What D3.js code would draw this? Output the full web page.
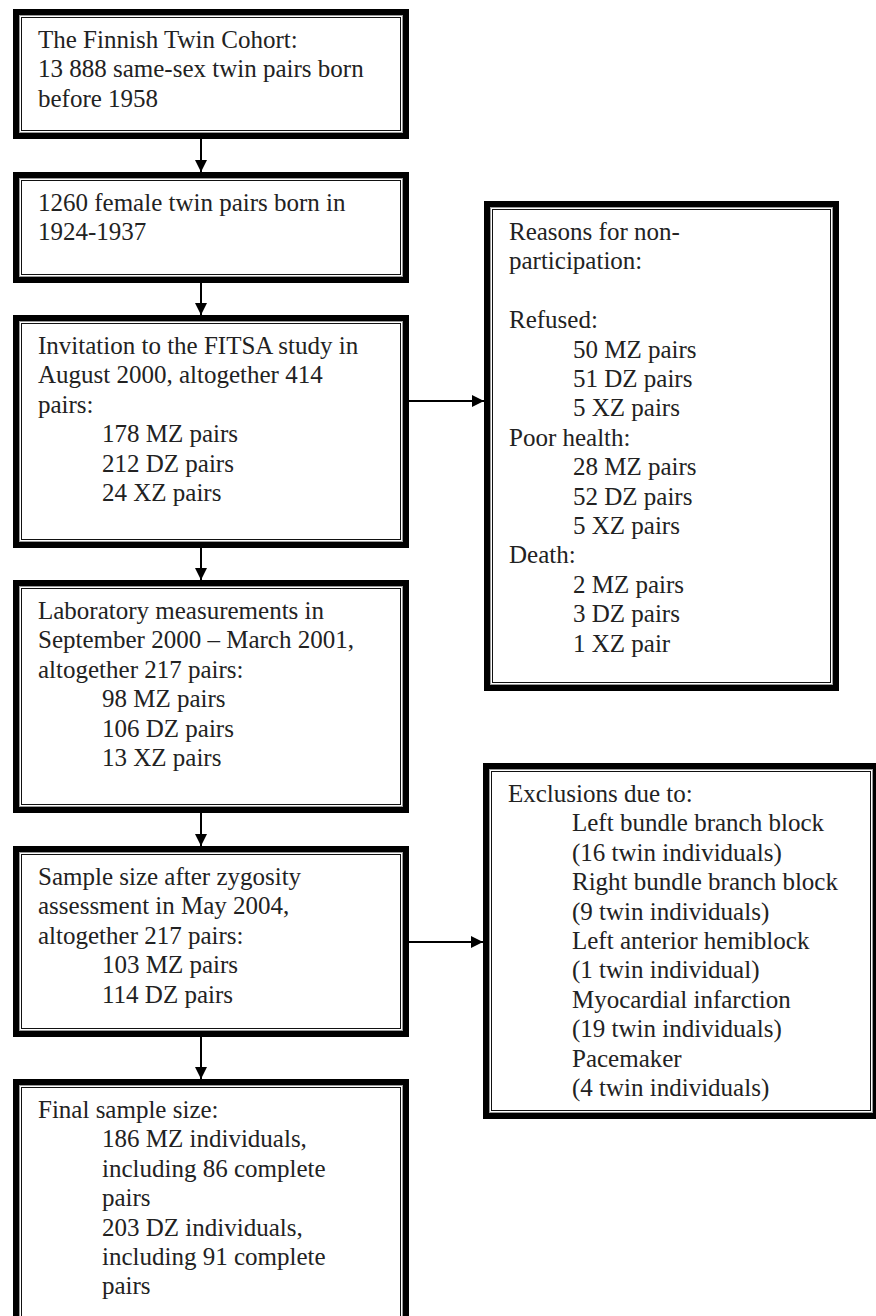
<!DOCTYPE html>
<html>
<head>
<meta charset="utf-8">
<script src="https://cdn.jsdelivr.net/npm/d3@7"></script>
<style>
  html, body { margin: 0; padding: 0; background: #fff; }
  svg { display: block; }
</style>
</head>
<body>
<div id="chart"></div>
<script>
// box texts, "\t" marks an indented line
const cohortLines = ["The Finnish Twin Cohort:", "13 888 same-sex twin pairs born", "before 1958"];
const femaleLines = ["1260 female twin pairs born in", "1924-1937"];
const invitationLines = ["Invitation to the FITSA study in", "August 2000, altogether 414", "pairs:",
  "\t178 MZ pairs", "\t212 DZ pairs", "\t24 XZ pairs"];
const labLines = ["Laboratory measurements in", "September 2000 \u2013 March 2001,", "altogether 217 pairs:",
  "\t98 MZ pairs", "\t106 DZ pairs", "\t13 XZ pairs"];
const zygosityLines = ["Sample size after zygosity", "assessment in May 2004,", "altogether 217 pairs:",
  "\t103 MZ pairs", "\t114 DZ pairs"];
const finalLines = ["Final sample size:", "\t186 MZ individuals,", "\tincluding 86 complete", "\tpairs",
  "\t203 DZ individuals,", "\tincluding 91 complete", "\tpairs"];
const nonParticipationLines = ["Reasons for non-", "participation:", "", "Refused:",
  "\t50 MZ pairs", "\t51 DZ pairs", "\t5 XZ pairs", "Poor health:",
  "\t28 MZ pairs", "\t52 DZ pairs", "\t5 XZ pairs", "Death:",
  "\t2 MZ pairs", "\t3 DZ pairs", "\t1 XZ pair"];
const exclusionLines = ["Exclusions due to:", "\tLeft bundle branch block", "\t(16 twin individuals)",
  "\tRight bundle branch block", "\t(9 twin individuals)", "\tLeft anterior hemiblock",
  "\t(1 twin individual)", "\tMyocardial infarction", "\t(19 twin individuals)",
  "\tPacemaker", "\t(4 twin individuals)"];

const width = 876, height = 1316;

// layout of the boxes (outer edge of the thick border)
const boxes = [
  { id: "cohort", lines: cohortLines, x0: 13, x1: 409, y0: 9, y1: 139 },
  { id: "female", lines: femaleLines, x0: 13, x1: 409, y0: 172, y1: 283 },
  { id: "invite", lines: invitationLines, x0: 13, x1: 409, y0: 315, y1: 548 },
  { id: "lab", lines: labLines, x0: 13, x1: 409, y0: 580, y1: 813 },
  { id: "zyg", lines: zygosityLines, x0: 13, x1: 409, y0: 846, y1: 1037 },
  { id: "final", lines: finalLines, x0: 13, x1: 409, y0: 1079, y1: 1340 },
  { id: "nonpart", lines: nonParticipationLines, x0: 484, x1: 839, y0: 201, y1: 691 },
  { id: "excl", lines: exclusionLines, x0: 483, x1: 879, y0: 763, y1: 1119 }
];
const byId = Object.fromEntries(boxes.map(b => [b.id, b]));

const downArrows = [["cohort", "female"], ["female", "invite"], ["invite", "lab"], ["lab", "zyg"], ["zyg", "final"]];
const sideArrows = [["invite", "nonpart", 401], ["zyg", "excl", 942]];

const svg = d3.select("#chart").append("svg")
  .attr("width", width)
  .attr("height", height);

svg.append("defs").append("marker")
  .attr("id", "head")
  .attr("viewBox", "0 0 10 10")
  .attr("refX", 10).attr("refY", 5)
  .attr("markerWidth", 6).attr("markerHeight", 6)
  .attr("markerUnits", "strokeWidth")
  .attr("orient", "auto")
  .append("path")
  .attr("d", "M0,0 L10,5 L0,10 Z")
  .attr("fill", "#000");

const textColor = "#222";
const lineY = d3.scaleLinear().domain([0, 1]).range([39, 68.4]);

const g = svg.selectAll("g.box")
  .data(boxes)
  .enter().append("g")
  .attr("class", "box")
  .attr("transform", d => `translate(${d.x0},${d.y0})`);

// thick outer border
g.append("rect")
  .attr("x", 3).attr("y", 3)
  .attr("width", d => d.x1 - d.x0 - 6)
  .attr("height", d => d.y1 - d.y0 - 6)
  .attr("fill", "#fff")
  .attr("stroke", "#000")
  .attr("stroke-width", 6);

// thin inner lines
g.append("rect")
  .attr("x", 6.5).attr("y", 6.5)
  .attr("width", d => d.x1 - d.x0 - 13)
  .attr("height", d => d.y1 - d.y0 - 13)
  .attr("fill", "none")
  .attr("stroke", "#999")
  .attr("stroke-width", 1);

g.append("rect")
  .attr("x", 8.5).attr("y", 8.5)
  .attr("width", d => d.x1 - d.x0 - 17)
  .attr("height", d => d.y1 - d.y0 - 17)
  .attr("fill", "none")
  .attr("stroke", "#111")
  .attr("stroke-width", 1);

g.selectAll("text")
  .data(d => d.lines)
  .enter().append("text")
  .attr("x", d => d.startsWith("\t") ? 89 : 25)
  .attr("y", (d, i) => lineY(i))
  .style("font-family", "'Liberation Serif', 'Times New Roman', serif")
  .style("font-size", "25px")
  .style("fill", textColor)
  .text(d => d.replace("\t", ""));

const arrowX = 201;
svg.selectAll("line.down")
  .data(downArrows)
  .enter().append("line")
  .attr("class", "down")
  .attr("x1", arrowX).attr("x2", arrowX)
  .attr("y1", d => byId[d[0]].y1)
  .attr("y2", d => byId[d[1]].y0)
  .attr("stroke", "#000")
  .attr("stroke-width", 2)
  .attr("marker-end", "url(#head)");

svg.selectAll("line.side")
  .data(sideArrows)
  .enter().append("line")
  .attr("class", "side")
  .attr("x1", d => byId[d[0]].x1)
  .attr("x2", d => byId[d[1]].x0)
  .attr("y1", d => d[2]).attr("y2", d => d[2])
  .attr("stroke", "#000")
  .attr("stroke-width", 2)
  .attr("marker-end", "url(#head)");
</script>
</body>
</html>
